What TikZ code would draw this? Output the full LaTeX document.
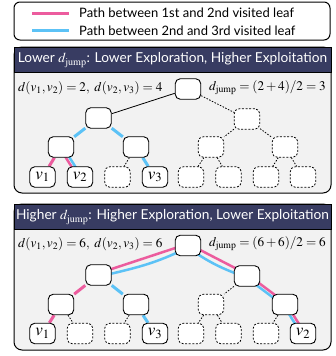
\documentclass[tikz,border=0pt]{standalone}
\usepackage{mathptmx}
\usepackage[no-math]{fontspec}
\setmainfont{Liberation Serif}
\setsansfont{Lato}
\usetikzlibrary{calc}
\definecolor{pinkc}{RGB}{236,92,158}
\definecolor{bluec}{RGB}{92,194,246}
\definecolor{navy}{RGB}{56,60,98}
\definecolor{panelbg}{RGB}{242,242,242}
\pgfdeclarelayer{bg}
\pgfdeclarelayer{edges}
\pgfsetlayers{bg,edges,main}
\tikzset{
  tn/.style={draw, fill=white, rounded corners=5pt, minimum width=25.5pt, minimum height=20.5pt, inner sep=0pt, line width=0.9pt, font=\fontsize{17}{17}\selectfont},
  dn/.style={tn, dash pattern=on 2pt off 1.6pt, line width=0.8pt},
  soled/.style={line width=0.8pt},
  doted/.style={line width=0.8pt, dash pattern=on 1.5pt off 1.5pt},
  pk/.style={line width=3pt, pinkc},
  bl/.style={line width=3pt, bluec},
  pk2/.style={line width=2.5pt, pinkc},
  bl2/.style={line width=2.5pt, bluec},
  hdr/.style={text=white, font=\sffamily\fontsize{13.7}{15}\selectfont},
  ann/.style={anchor=west, font=\fontsize{13.2}{15}\selectfont, inner sep=0pt},
  legtxt/.style={anchor=west, font=\sffamily\fontsize{13}{15}\selectfont, inner sep=0pt},
}
\newcommand\PEplus[2]{%
 \draw[pk2] ($(#1)!1.6pt!90:(#2)$) -- ($(#2)!1.6pt!-90:(#1)$);
 \draw[bl2] ($(#1)!1.6pt!-90:(#2)$) -- ($(#2)!1.6pt!90:(#1)$);}
\newcommand\PEminus[2]{%
 \draw[pk2] ($(#1)!1.6pt!-90:(#2)$) -- ($(#2)!1.6pt!90:(#1)$);
 \draw[bl2] ($(#1)!1.6pt!90:(#2)$) -- ($(#2)!1.6pt!-90:(#1)$);}
\begin{document}
\begin{tikzpicture}[x=1pt,y=-1pt]
\useasboundingbox (0,0) rectangle (336,356);
% legend
\node[draw, line width=1pt, fill=white, rounded corners=6pt, minimum width=316pt, minimum height=38pt] (legend) at (172,21) {};
\coordinate (lp1) at (32,13); \coordinate (lp2) at (69,13);
\coordinate (lb1) at (32,30.5); \coordinate (lb2) at (69,30.5);
\draw[pk] (lp1) -- (lp2);
\draw[bl] (lb1) -- (lb2);
\node[legtxt] (lt1) at (79,13) {Path between 1st and 2nd visited leaf};
\node[legtxt] (lt2) at (79,30.5) {Path between 2nd and 3rd visited leaf};
% panels
\begin{pgfonlayer}{bg}
\draw[line width=1pt, fill=panelbg, rounded corners=8pt] (14,47) rectangle (331,193);
\draw[line width=1pt, fill=navy] (14,47) rectangle (331,72);
\draw[line width=1pt, fill=panelbg, rounded corners=8pt] (14,204) rectangle (331,350);
\draw[line width=1pt, fill=navy] (14,204) rectangle (331,229);
\end{pgfonlayer}
\node[hdr] (h1) at (172.5,60) {Lower $d_{\mathrm{jump}}$: Lower Exploration, Higher Exploitation};
\node[hdr] (h2) at (172.5,217) {Higher $d_{\mathrm{jump}}$: Higher Exploration, Lower Exploitation};
\node[ann] (t1) at (18,88) {$d(v_1,v_2)=2,\ d(v_2,v_3)=4$};
\node[ann] (t2) at (209,88) {$d_{\mathrm{jump}}=(2+4)/2=3$};
\node[ann] (t3) at (18,244) {$d(v_1,v_2)=6,\ d(v_2,v_3)=6$};
\node[ann] (t4) at (209,244) {$d_{\mathrm{jump}}=(6+6)/2=6$};
% top tree
\node[tn] (Tr) at (188,89) {};
\node[tn] (Ta) at (98.5,118) {};
\node[dn] (Tb) at (247,119) {};
\node[tn] (Tc) at (61,147) {};
\node[tn] (Td) at (136,147) {};
\node[dn] (Te) at (211,147) {};
\node[dn] (Tf) at (285,147) {};
\node[tn] (T1) at (42.5,177) {$v_1$};
\node[tn] (T2) at (80,177) {$v_2$};
\node[dn] (T3) at (117.5,177) {};
\node[tn] (T4) at (155,177) {$v_3$};
\node[dn] (T5) at (191,177) {};
\node[dn] (T6) at (228.5,177) {};
\node[dn] (T7) at (266,177) {};
\node[dn] (T8) at (303,177) {};
% bottom tree
\node[tn] (Br) at (188,245.5) {};
\node[tn] (Ba) at (98.5,275) {};
\node[tn] (Bb) at (247,276) {};
\node[tn] (Bc) at (61,304.5) {};
\node[tn] (Bd) at (136,304.5) {};
\node[dn] (Be) at (211,304.5) {};
\node[tn] (Bf) at (285,304.5) {};
\node[tn] (B1) at (42.5,333.5) {$v_1$};
\node[dn] (B2) at (80,333.5) {};
\node[dn] (B3) at (117.5,333.5) {};
\node[tn] (B4) at (155,333.5) {$v_3$};
\node[dn] (B5) at (191,333.5) {};
\node[dn] (B6) at (228.5,333.5) {};
\node[dn] (B7) at (266,333.5) {};
\node[tn] (B8) at (303,333.5) {$v_2$};
\begin{pgfonlayer}{edges}
% top edges
\draw[soled] (Tr) -- (Ta);
\draw[doted] (Tr) -- (Tb);
\draw[bl] (Ta) -- (Tc);
\draw[bl] (Ta) -- (Td);
\draw[pk] (Tc) -- (T1);
\PEminus{Tc}{T2}
\draw[doted] (Td) -- (T3);
\draw[bl] (Td) -- (T4);
\draw[doted] (Tb) -- (Te);
\draw[doted] (Tb) -- (Tf);
\draw[doted] (Te) -- (T5);
\draw[doted] (Te) -- (T6);
\draw[doted] (Tf) -- (T7);
\draw[doted] (Tf) -- (T8);
% bottom edges
\draw[pk2] ($(Br)!1.6pt!-90:(Ba)$) -- ($(Ba)!1.6pt!90:(Br)$);
\draw[bl2] ($(Br)!1.6pt!90:(Ba)$) to[out=207,in=13] ($(Ba)!1.6pt!-90:(Br)$);
\draw[pk2] ($(Br)!1.6pt!90:(Bb)$) -- ($(Bb)!1.6pt!-90:(Br)$);
\draw[bl2] ($(Br)!1.6pt!-90:(Bb)$) to[out=-36,in=160] ($(Bb)!1.6pt!90:(Br)$);
\draw[pk] (Ba) -- (Bc);
\draw[bl] (Ba) -- (Bd);
\draw[pk] (Bc) -- (B1);
\draw[doted] (Bc) -- (B2);
\draw[doted] (Bd) -- (B3);
\draw[bl] (Bd) -- (B4);
\draw[doted] (Bb) -- (Be);
\PEplus{Bb}{Bf}
\draw[doted] (Be) -- (B5);
\draw[doted] (Be) -- (B6);
\draw[doted] (Bf) -- (B7);
\PEplus{Bf}{B8}
\end{pgfonlayer}
\end{tikzpicture}
\end{document}
